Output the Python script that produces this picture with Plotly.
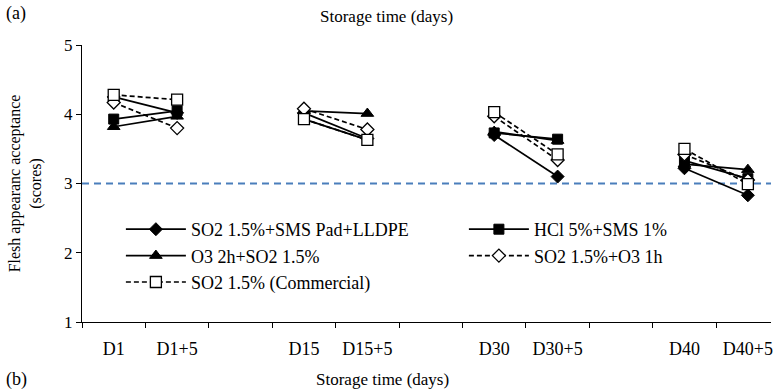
import plotly.graph_objects as go

# ---- data ----
categories = ["D1", "D1+5", "", "D15", "D15+5", "", "D30", "D30+5", "", "D40", "D40+5"]
lldpe = [4.25, 4.02, None, 4.02, 3.65, None, 3.70, 3.10, None, 3.22, 2.83]
hcl = [3.93, 4.05, None, 3.93, 3.63, None, 3.73, 3.64, None, 3.33, 3.07]
o3_2h = [3.82, 3.97, None, 4.05, 4.01, None, 3.75, 3.62, None, 3.28, 3.20]
so2_o3 = [4.17, 3.80, None, 4.08, 3.78, None, 3.97, 3.34, None, 3.42, 3.05]
commercial = [4.28, 4.21, None, 3.93, 3.63, None, 4.03, 3.42, None, 3.50, 2.99]
series_names = ["SO2 1.5%+SMS Pad+LLDPE", "HCl 5%+SMS 1%", "O3 2h+SO2 1.5%",
                "SO2 1.5%+O3 1h", "SO2 1.5% (Commercial)"]
threshold = 3
y_ticks = [1, 2, 3, 4, 5]
x_title = "Storage time (days)"
y_title = "Flesh appearanc acceptance<br>(scores)"

# ---- layout geometry ----
W, H = 773, 391
L, R, T, B = 82, 0, 45, 69
PW, PH = W - L - R, H - T - B
FONT = "Liberation Serif, Times New Roman, serif"
FS = 17
LFS = 18


def px(xp):
    return (xp - L) / PW


def py(yp):
    return 1 - (yp - T) / PH


xpos = list(range(len(categories)))
label_idx = [i for i, c in enumerate(categories) if c]

styles = [
    dict(symbol="diamond", color="black", lw=1, dash="solid", legend="legend", size=10),
    dict(symbol="square", color="black", lw=1, dash="solid", legend="legend2", size=10),
    dict(symbol="triangle-up", color="black", lw=1, dash="solid", legend="legend", size=11),
    dict(symbol="diamond", color="white", lw=1.3, dash="5px,3px", legend="legend2", size=10),
    dict(symbol="square", color="white", lw=1.3, dash="5px,3px", legend="legend", size=11),
]

fig = go.Figure()
for name, vals, st in zip(series_names, [lldpe, hcl, o3_2h, so2_o3, commercial], styles):
    fig.add_trace(go.Scatter(
        x=xpos, y=vals, name=name, mode="lines+markers", connectgaps=False,
        legend=st["legend"],
        line=dict(color="black", width=1.7, dash=st["dash"]),
        marker=dict(symbol=st["symbol"], size=st["size"], color=st["color"],
                    line=dict(color="black", width=st["lw"])),
    ))

fig.add_shape(type="line", xref="paper", x0=0, x1=1, yref="y", y0=threshold, y1=threshold,
              line=dict(color="#4A7EBB", width=2, dash="7px,5px"), layer="below")

leg_common = dict(orientation="v", xanchor="left", yanchor="top", itemwidth=60,
                  bgcolor="rgba(0,0,0,0)", font=dict(family=FONT, size=LFS),
                  traceorder="normal")

fig.update_layout(
    width=W, height=H, margin=dict(l=L, r=R, t=T, b=B, pad=0),
    paper_bgcolor="white", plot_bgcolor="white",
    font=dict(family=FONT, size=FS, color="black"),
    showlegend=True,
    legend=dict(x=px(121), y=py(211), **leg_common),
    legend2=dict(x=px(465), y=py(211), **leg_common),
    xaxis=dict(range=[-0.5, -0.5 + PW / 63.6], showgrid=False, zeroline=False,
               showline=True, linecolor="black", linewidth=1,
               tickmode="array", tickvals=[xpos[i] for i in label_idx],
               ticktext=[categories[i] for i in label_idx],
               tickfont=dict(size=LFS), ticklabeloverflow="allow",
               ticks="outside", ticklen=10, tickcolor="rgba(0,0,0,0)",
               minor=dict(tickmode="array", tickvals=[i - 0.5 for i in xpos],
                          ticks="outside", ticklen=5, tickcolor="black", tickwidth=1)),
    yaxis=dict(range=[1, 5], tickvals=y_ticks, showgrid=False, zeroline=False,
               showline=True, linecolor="black", linewidth=1,
               ticks="outside", ticklen=5, tickcolor="black",
               title=dict(text=y_title, font=dict(family=FONT, size=16), standoff=18)),
    annotations=[
        dict(text="(a)", x=px(4), y=py(14), xref="paper", yref="paper",
             xanchor="left", yanchor="middle", showarrow=False, font=dict(size=FS + 1)),
        dict(text=x_title, x=px(387), y=py(17), xref="paper", yref="paper",
             xanchor="center", yanchor="middle", showarrow=False),
        dict(text="(b)", x=px(4), y=py(379), xref="paper", yref="paper",
             xanchor="left", yanchor="middle", showarrow=False, font=dict(size=FS + 1)),
        dict(text=x_title, x=px(383), y=py(379), xref="paper", yref="paper",
             xanchor="center", yanchor="middle", showarrow=False),
    ],
)

fig.write_html("out.html")
